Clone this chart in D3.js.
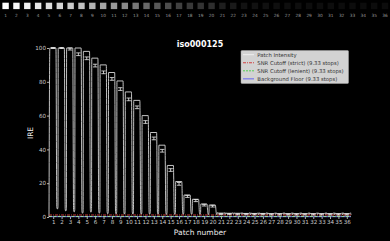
<!DOCTYPE html>
<html><head><meta charset="utf-8">
<script src="https://cdn.jsdelivr.net/npm/d3@7"></script>
<style>html,body{margin:0;padding:0;background:#000;}svg{display:block;}</style>
</head><body>
<svg id="c" width="390" height="241"></svg>
<script>
// ---- data ----
const patches = d3.range(1, 37);
const patchMean = [100,100,99.4,96.3,93.9,89.6,85.6,81.7,75.7,69.6,64.9,56.2,46.5,39.2,27.8,19.6,12.2,9.7,7.0,6.4,
  1.7,1.7,1.6,1.6,1.6,1.6,1.5,1.5,1.5,1.5,1.5,1.5,1.5,1.5,1.5,1.5];
const patchTop = [100,100,100,100,98,94,90,85.5,80.5,74,69,60,50,42.5,30.5,21,13,10.5,7.7,7.1,
  2.3,2.2,2.2,2.1,2.1,2.1,2.0,2.0,2.0,2.0,2.0,2.0,2.0,2.0,2.0,2.0];
const patchErr = [0.3,0.3,0.6,0.8,0.8,0.8,0.8,0.8,0.8,0.8,0.8,0.8,0.8,0.8,0.8,0.8,0.6,0.6,0.5,0.5,
  0.3,0.3,0.3,0.3,0.3,0.3,0.3,0.3,0.3,0.3,0.3,0.3,0.3,0.3,0.3,0.3];
const dipAfter = [4.7,3.5,3.0,2.2,2.8,2.2,1.9,1.8,1.7,1.7,1.6,1.6,1.6,1.5,1.5,1.5,1.5,1.4,1.4,1.4,
  1.3,1.3,1.3,1.3,1.3,1.3,1.3,1.3,1.3,1.3,1.3,1.3,1.3,1.3,1.3,1.3];
const swatchGray = ["#ffffff","#f8f8f8","#f0f0f0","#e8e8e8","#dcdcdc","#d4d4d4","#cacaca","#c0c0c0","#b2b2b2","#a4a4a4",
  "#989898","#8a8a8a","#787878","#686868","#585858","#4c4c4c","#404040","#383838","#333333","#2e2e2e",
  "#1e1e1e","#1a1a1a","#121212","#111111","#101010","#0f0f0f","#0e0e0e","#0e0e0e","#0d0d0d","#0d0d0d",
  "#0d0d0d","#0c0c0c","#0c0c0c","#0c0c0c","#0c0c0c","#0c0c0c"];
const strictCutoff = 1.2, lenientCutoff = 0.35, backgroundFloor = 0.2;
const yTicks = [0,20,40,60,80,100];
const title = "iso000125";
const legendLabels = ["Patch Intensity","SNR Cutoff (strict) (9.33 stops)","SNR Cutoff (lenient) (9.33 stops)","Background Floor (9.33 stops)"];

// ---- drawing ----
const svg = d3.select("#c");
const F = "DejaVu Sans, sans-serif";
svg.append("rect").attr("width",390).attr("height",241).attr("fill","#000");

// top swatch strip
const sx = d3.scaleLinear().domain([1,36]).range([5.6, 385.0]);
svg.append("g").selectAll("rect").data(patches).join("rect")
  .attr("x", d => sx(d)-3.2).attr("y", 2.7).attr("width", 6.4).attr("height", 6.4)
  .attr("fill", (d,i) => swatchGray[i]);
svg.append("g").selectAll("text").data(patches).join("text")
  .attr("x", d => sx(d)).attr("y", 17.3).attr("text-anchor","middle")
  .attr("font-family",F).attr("font-size",4.3).attr("fill","#9a9a9a").text(d => d);

const x = d3.scaleLinear().domain([0.5,36.5]).range([49,351]);
const y = d3.scaleLinear().domain([0,100]).range([217,48]);

// axes
const yAxis = svg.append("g").attr("transform","translate(49,0)")
  .call(d3.axisLeft(y).tickValues(yTicks).tickSize(2).tickPadding(1));
const xAxis = svg.append("g").attr("transform","translate(0,217)")
  .call(d3.axisBottom(x).tickValues(patches).tickSize(2).tickPadding(1));
[yAxis,xAxis].forEach(a => {
  a.select(".domain").remove();
  a.selectAll("line").attr("stroke","#ddd").attr("stroke-width",0.8);
  a.selectAll("text").attr("fill","#ccc").attr("font-family",F).attr("font-size",5.6);
});

// reference lines
const hl = (v, color, dash, w) => svg.append("line")
  .attr("x1", x(0.5)).attr("x2", x(36.5)).attr("y1", y(v)).attr("y2", y(v))
  .attr("stroke", color).attr("stroke-width", w).attr("stroke-dasharray", dash);
hl(backgroundFloor, "#7777ff", null, 1);
hl(lenientCutoff, "#9be39b", "3,1.5", 1);

// patch intensity profile (rising edge, plateau, rounded dip between patches)
const pts = [[0.5, 0]];
patches.forEach((p,i) => {
  pts.push([p-0.40, patchTop[i]]);
  pts.push([p+0.33, patchTop[i]]);
  pts.push([p+0.43, dipAfter[i]+1.2]);
  pts.push([p+0.5, dipAfter[i]]);
  if (i < patches.length-1) pts.push([p+0.57, dipAfter[i]+1.2]);
});
const line = d3.line().x(d => x(d[0])).y(d => y(d[1])).curve(d3.curveMonotoneX);
svg.append("path").attr("d", line(pts)).attr("fill","none")
  .attr("stroke","#d8d8d8").attr("stroke-width",0.9);

hl(strictCutoff, "#c03a3a", "3,1,1,1", 1);

// error bars
const eb = svg.append("g").attr("stroke","#f0f0f0").attr("stroke-width",0.8);
patches.forEach((p,i) => {
  const cx = x(p), y1 = y(patchMean[i]-patchErr[i]), y2 = y(patchMean[i]+patchErr[i]);
  eb.append("line").attr("x1",cx).attr("x2",cx).attr("y1",y1).attr("y2",y2);
  eb.append("line").attr("x1",cx-2.2).attr("x2",cx+2.2).attr("y1",y1).attr("y2",y1);
  eb.append("line").attr("x1",cx-2.2).attr("x2",cx+2.2).attr("y1",y2).attr("y2",y2);
});

// title & labels
svg.append("text").attr("x",200).attr("y",47).attr("text-anchor","middle")
  .attr("font-family",F).attr("font-weight","bold").attr("font-size",8).attr("fill","#fff").text(title);
svg.append("text").attr("transform","translate(33,133) rotate(-90)").attr("text-anchor","middle")
  .attr("font-family",F).attr("font-size",7.5).attr("fill","#eee").text("IRE");
svg.append("text").attr("x",200).attr("y",234.5).attr("text-anchor","middle")
  .attr("font-family",F).attr("font-size",7.5).attr("fill","#eee").text("Patch number");

// legend
const lg = svg.append("g");
lg.append("rect").attr("x",241).attr("y",50.5).attr("width",107.5).attr("height",33)
  .attr("rx",1).attr("fill","#d2d2d2").attr("stroke","#aaa").attr("stroke-width",0.5);
const sw = [{c:"#eeeeee",d:null},{c:"#d04040",d:"3,1,1,1"},{c:"#55d055",d:"2,1"},{c:"#6666ee",d:null}];
legendLabels.forEach((t,i) => {
  const yy = 54.7 + i*8.05;
  lg.append("line").attr("x1",243).attr("x2",254).attr("y1",yy).attr("y2",yy)
    .attr("stroke",sw[i].c).attr("stroke-width",1).attr("stroke-dasharray",sw[i].d);
  lg.append("text").attr("x",257.3).attr("y",yy+1.9).attr("font-family",F).attr("font-size",5.3)
    .attr("fill","#333").text(t);
});
</script>
</body></html>
